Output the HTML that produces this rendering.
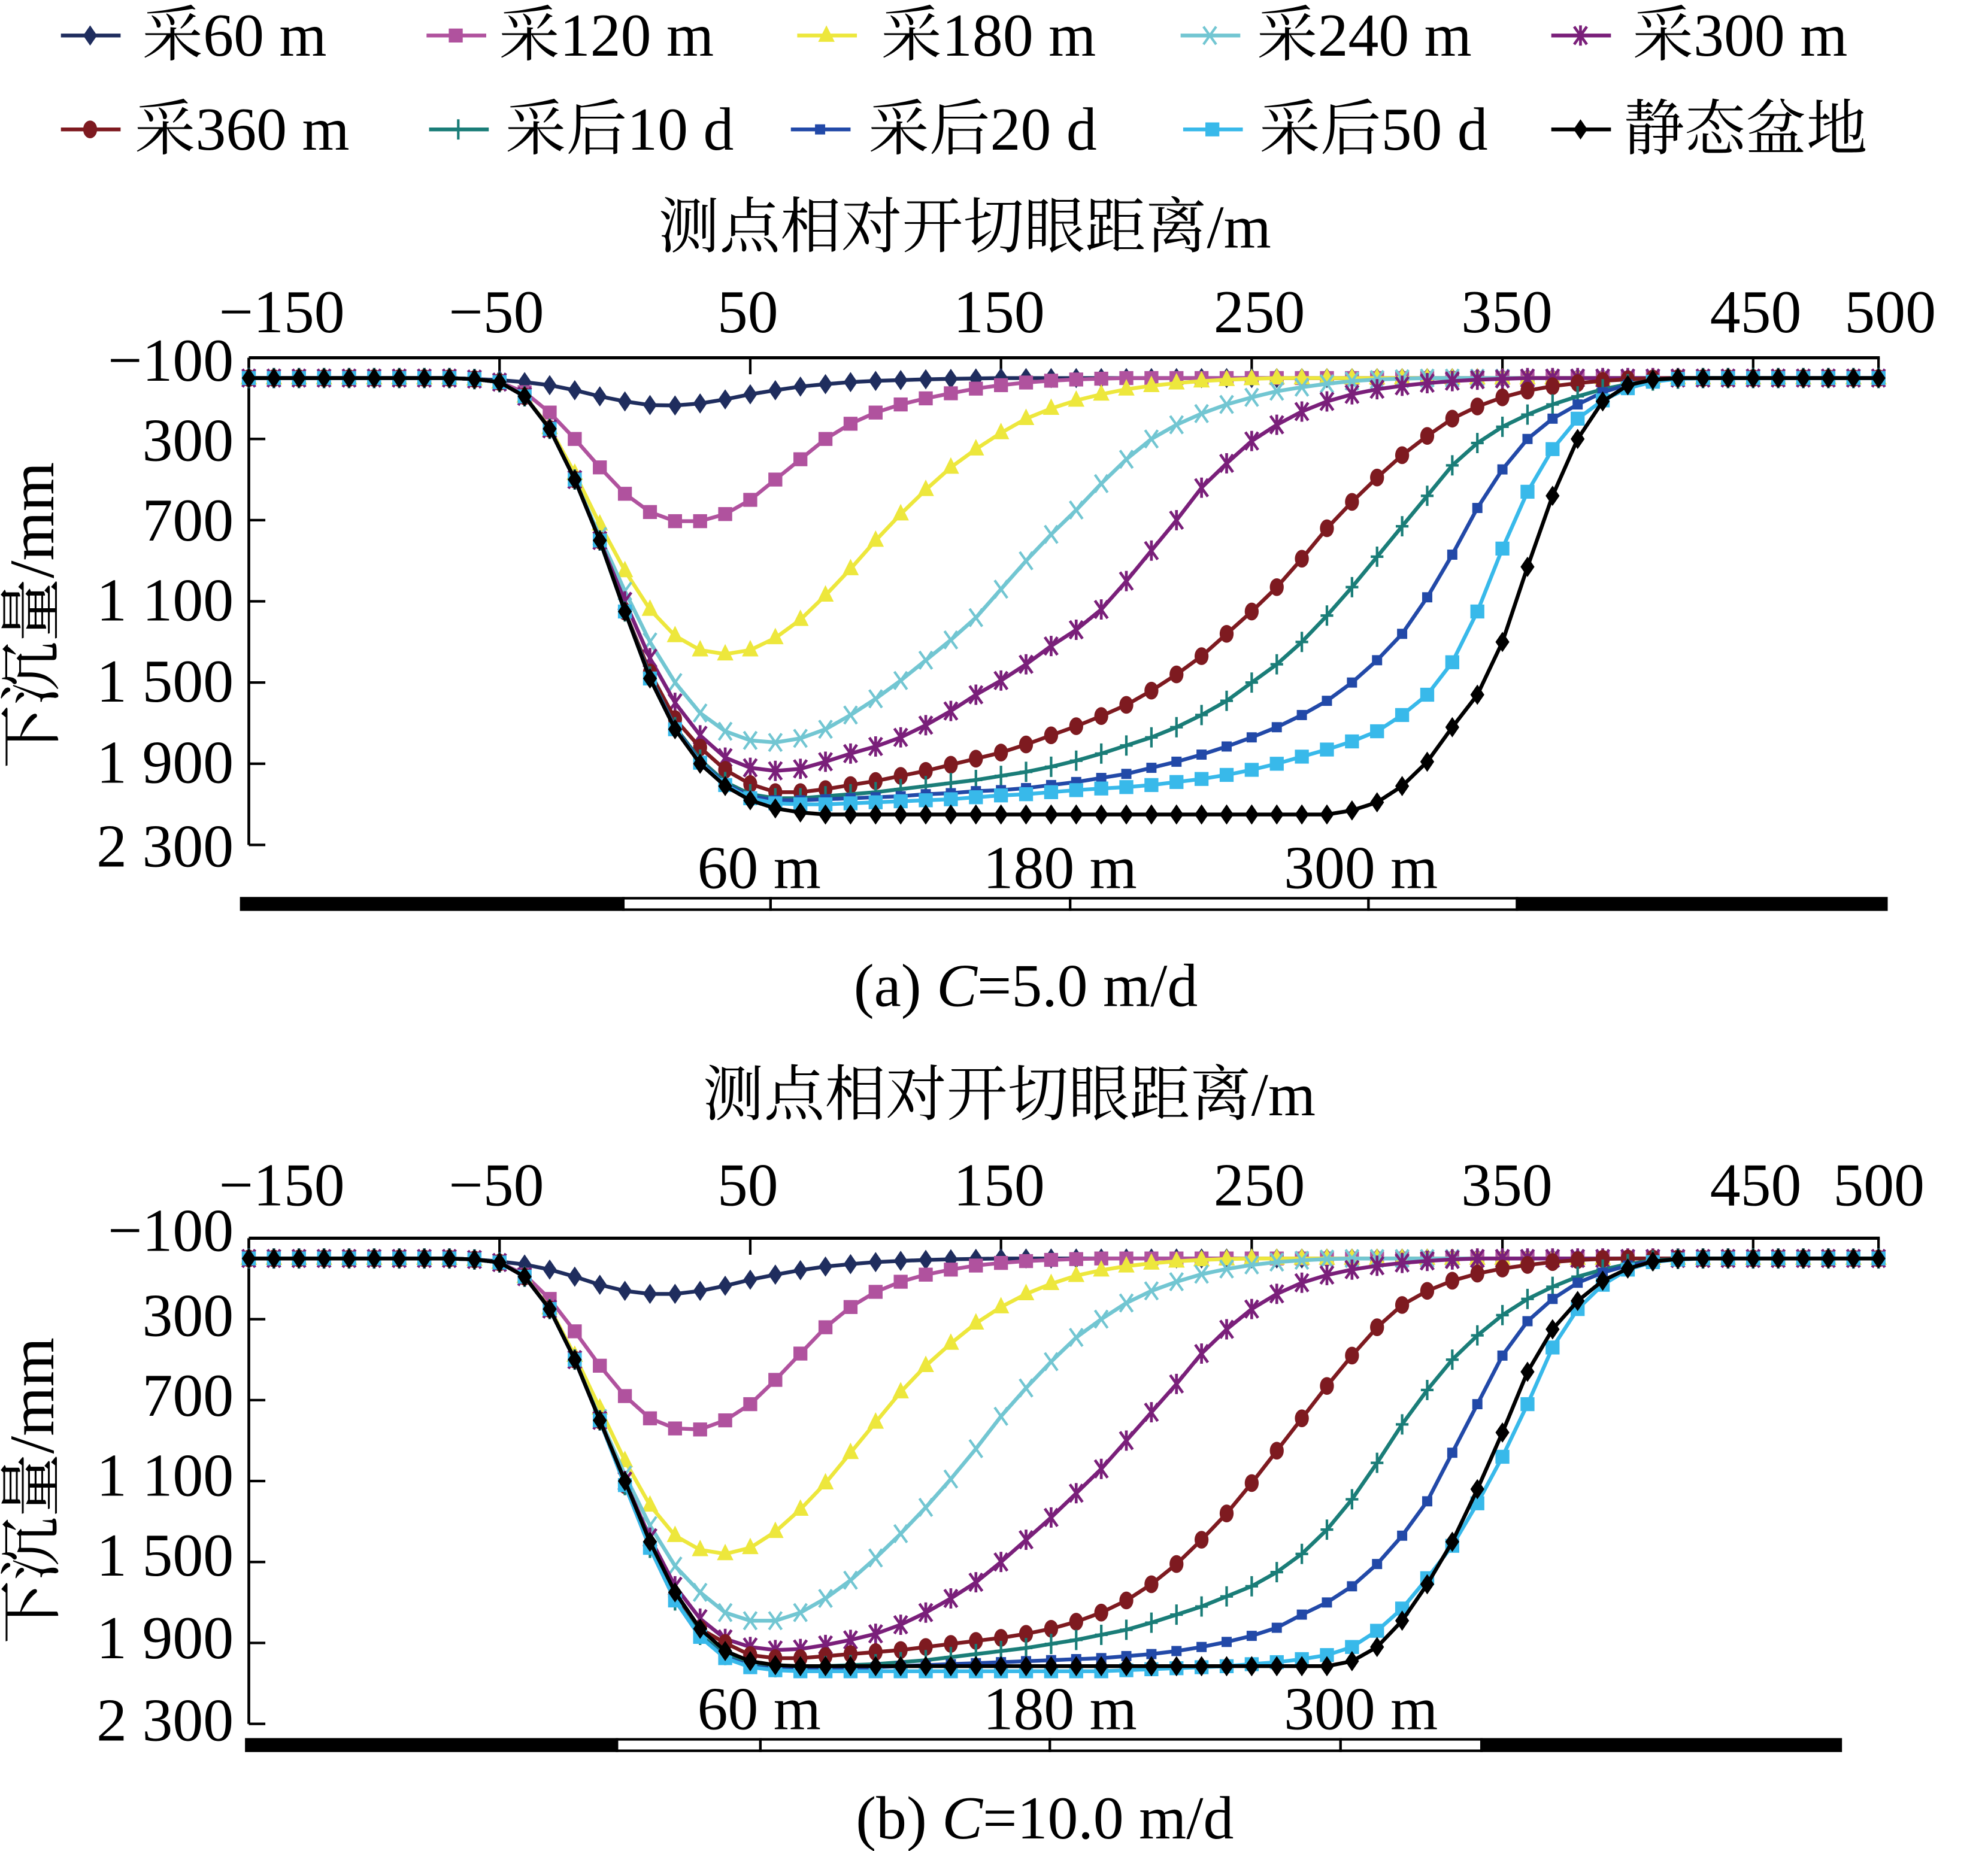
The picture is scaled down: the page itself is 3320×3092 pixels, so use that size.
<!DOCTYPE html>
<html><head><meta charset="utf-8">
<style>
html,body{margin:0;padding:0;background:#fff;}
svg{display:block;}
text{font-family:"Liberation Serif","Noto Serif CJK SC",serif;fill:#000;}
</style></head>
<body>
<svg id="chart" xmlns="http://www.w3.org/2000/svg" width="3320" height="3092" viewBox="0 0 1566 1459" preserveAspectRatio="none">
</svg>
<script>
const X = [-150,-140,-130,-120,-110,-100,-90,-80,-70,-60,-50,-40,-30,-20,-10,0,10,20,30,40,50,60,70,80,90,100,110,120,130,140,150,160,170,180,190,200,210,220,230,240,250,260,270,280,290,300,310,320,330,340,350,360,370,380,390,400,410,420,430,440,450,460,470,480,490,500];
const xTicks = [-150,-50,50,150,250,350,450,500];
const yTicks = [-100,300,700,1100,1500,1900,2300];
const yTickLabels = ["\u2212100","300","700","1 100","1 500","1 900","2 300"];
const seriesNames = ["采60 m","采120 m","采180 m","采240 m","采300 m","采360 m","采后10 d","采后20 d","采后50 d","静态盆地"];

const a60 = [0,0,0,0,0,0,0,0,0,5,10,20,35,60,90,115,133,135,125,105,80,60,42,30,20,14,10,6,4,2,0,0,0,0,0,0,0,0,0,0,0,0,0,0,0,0,0,0,0,0,0,0,0,0,0,0,0,0,0,0,0,0,0,0,0,0];
const a120 = [0,0,0,0,0,0,0,0,0,5,20,70,170,300,440,570,660,705,705,670,600,500,400,300,225,170,130,100,75,52,35,22,13,7,3,0,0,0,0,0,0,0,0,0,0,0,0,0,0,0,0,0,0,0,0,0,0,0,0,0,0,0,0,0,0,0];
const a180 = [0,0,0,0,0,0,0,0,0,5,20,90,245,470,720,950,1140,1270,1340,1360,1340,1280,1190,1070,940,800,670,550,440,350,270,200,150,110,80,55,38,25,15,8,4,0,0,0,0,0,0,0,0,0,0,0,0,0,0,0,0,0,0,0,0,0,0,0,0,0];
const a240 = [0,0,0,0,0,0,0,0,0,5,20,90,250,500,780,1050,1300,1500,1650,1740,1785,1795,1775,1730,1660,1580,1490,1390,1290,1180,1040,900,770,650,520,400,300,230,175,130,95,65,45,28,15,7,3,0,0,0,0,0,0,0,0,0,0,0,0,0,0,0,0,0,0,0];
const a300 = [0,0,0,0,0,0,0,0,0,5,20,90,250,500,800,1100,1380,1600,1760,1870,1920,1935,1925,1890,1850,1815,1770,1710,1640,1560,1490,1410,1320,1240,1140,1000,850,700,540,420,310,230,165,115,80,55,38,25,15,8,4,0,0,0,0,0,0,0,0,0,0,0,0,0,0,0];
const a360 = [0,0,0,0,0,0,0,0,0,5,20,90,250,500,800,1150,1450,1680,1820,1930,2000,2040,2040,2025,2005,1985,1960,1935,1905,1875,1845,1805,1760,1715,1665,1610,1540,1460,1370,1260,1150,1030,890,740,610,490,380,285,200,140,95,62,40,25,14,6,2,0,0,0,0,0,0,0,0,0];
const a10d = [0,0,0,0,0,0,0,0,0,5,20,90,250,500,800,1150,1470,1720,1880,1990,2050,2070,2070,2060,2050,2040,2025,2010,1995,1980,1960,1940,1915,1885,1850,1810,1770,1720,1660,1590,1500,1410,1300,1170,1030,880,730,580,430,320,240,180,130,90,55,30,12,3,0,0,0,0,0,0,0,0];
const a20d = [0,0,0,0,0,0,0,0,0,5,20,90,250,500,800,1150,1475,1725,1890,2000,2060,2080,2080,2075,2070,2065,2060,2050,2045,2035,2030,2020,2005,1990,1970,1950,1920,1890,1855,1815,1770,1720,1660,1590,1500,1390,1260,1080,870,640,450,300,200,130,70,32,12,3,0,0,0,0,0,0,0,0];
const a50d = [0,0,0,0,0,0,0,0,0,5,20,90,250,500,800,1150,1480,1730,1895,2005,2070,2095,2100,2100,2095,2090,2085,2080,2075,2065,2056,2050,2040,2030,2022,2015,2005,1990,1975,1955,1930,1900,1865,1830,1790,1740,1660,1560,1400,1150,840,560,350,200,110,50,18,4,0,0,0,0,0,0,0,0];
const aStatic = [0,0,0,0,0,0,0,0,0,5,20,90,250,500,800,1150,1480,1730,1900,2010,2080,2120,2140,2150,2150,2150,2150,2150,2150,2150,2150,2150,2150,2150,2150,2150,2150,2150,2150,2150,2150,2150,2150,2150,2130,2090,2010,1890,1720,1560,1300,930,580,300,115,35,8,0,0,0,0,0,0,0,0,0];

const b60 = [0,0,0,0,0,0,0,0,0,5,15,30,55,90,130,160,175,175,160,135,105,80,58,40,28,18,12,7,4,2,0,0,0,0,0,0,0,0,0,0,0,0,0,0,0,0,0,0,0,0,0,0,0,0,0,0,0,0,0,0,0,0,0,0,0,0];
const b120 = [0,0,0,0,0,0,0,0,0,5,20,80,200,360,530,680,790,840,845,800,720,600,470,340,240,165,115,80,55,35,22,13,7,3,0,0,0,0,0,0,0,0,0,0,0,0,0,0,0,0,0,0,0,0,0,0,0,0,0,0,0,0,0,0,0,0];
const b180 = [0,0,0,0,0,0,0,0,0,5,20,90,245,480,740,1000,1220,1370,1440,1460,1430,1350,1240,1110,960,810,660,530,420,320,240,175,125,85,58,38,24,14,7,3,0,0,0,0,0,0,0,0,0,0,0,0,0,0,0,0,0,0,0,0,0,0,0,0,0,0];
const b240 = [0,0,0,0,0,0,0,0,0,5,20,90,250,500,790,1070,1320,1520,1650,1750,1790,1790,1750,1680,1590,1480,1360,1230,1090,940,780,640,510,390,300,220,160,115,78,52,32,18,9,3,0,0,0,0,0,0,0,0,0,0,0,0,0,0,0,0,0,0,0,0,0,0];
const b300 = [0,0,0,0,0,0,0,0,0,5,20,90,250,500,800,1100,1380,1620,1780,1880,1920,1935,1930,1910,1885,1855,1810,1750,1680,1600,1500,1390,1280,1160,1040,900,760,620,470,350,250,175,120,82,55,36,22,12,5,0,0,0,0,0,0,0,0,0,0,0,0,0,0,0,0,0];
const b360 = [0,0,0,0,0,0,0,0,0,5,20,90,250,500,800,1120,1420,1670,1830,1900,1960,1975,1975,1965,1955,1945,1935,1920,1905,1890,1875,1855,1830,1795,1750,1690,1610,1510,1390,1260,1110,950,790,630,480,340,230,160,110,75,50,32,18,8,2,0,0,0,0,0,0,0,0,0,0,0];
const b10d = [0,0,0,0,0,0,0,0,0,5,20,90,250,500,800,1120,1430,1690,1860,1960,2000,2020,2020,2015,2010,2005,1995,1985,1970,1955,1940,1925,1905,1885,1860,1835,1800,1760,1720,1670,1620,1550,1460,1340,1190,1010,820,650,500,380,280,200,140,90,55,28,10,2,0,0,0,0,0,0,0,0];
const b20d = [0,0,0,0,0,0,0,0,0,5,20,90,250,500,800,1120,1430,1690,1870,1970,2015,2030,2030,2030,2025,2020,2015,2010,2005,2000,1995,1990,1985,1980,1975,1965,1955,1940,1920,1895,1865,1825,1760,1700,1620,1510,1370,1200,960,720,480,310,200,120,70,35,14,4,0,0,0,0,0,0,0,0];
const b50d = [0,0,0,0,0,0,0,0,0,5,20,90,250,500,800,1120,1430,1690,1870,1975,2020,2035,2040,2040,2040,2040,2040,2040,2040,2040,2040,2040,2040,2040,2040,2035,2030,2025,2020,2015,2005,1995,1980,1960,1920,1840,1730,1580,1420,1210,980,720,440,250,130,55,18,5,0,0,0,0,0,0,0,0];
const bStatic = [0,0,0,0,0,0,0,0,0,5,20,90,250,500,800,1100,1400,1650,1830,1940,1990,2010,2015,2015,2015,2015,2015,2015,2015,2015,2015,2015,2015,2015,2015,2015,2015,2015,2015,2015,2015,2015,2015,2015,1990,1920,1790,1610,1400,1140,860,560,350,210,110,50,15,3,0,0,0,0,0,0,0,0];

const seriesA = [a60,a120,a180,a240,a300,a360,a10d,a20d,a50d,aStatic];
const seriesB = [b60,b120,b180,b240,b300,b360,b10d,b20d,b50d,bStatic];

const colors = ["#1f2d5e","#b0529e","#ede73c","#72c6d2","#7a1f7a","#7e1a20","#1a7d78","#2249a8","#38b9ea","#000000"];
const shapes = ["diamond","square","triangle","xmark","star","circle","plus","bar","square","diamond"];

const NS = "http://www.w3.org/2000/svg";
const svg = document.getElementById('chart');
function mk(tag, attrs, parent){
  const e = document.createElementNS(NS, tag);
  for (const k in attrs) e.setAttribute(k, attrs[k]);
  (parent||svg).appendChild(e);
  return e;
}
function txt(s, x, y, size, anchor, parent){
  const t = mk('text', {x:x, y:y, 'font-size':size, 'text-anchor':anchor||'middle'}, parent);
  t.textContent = s;
  return t;
}
function xs(m){ return 196 + (m + 150) * 1.975; }
function yA(v){ return 282 + (v + 100) * 0.16; }
function yB(v){ return 976 + (v + 100) * 0.1595; }

function marker(g, shape, x, y, c){
  let e;
  if (shape === 'diamond') e = mk('polygon', {points:`${x},${y-8} ${x+5.5},${y} ${x},${y+8} ${x-5.5},${y}`, fill:c}, g);
  else if (shape === 'square') e = mk('rect', {x:x-5.5, y:y-5.5, width:11, height:11, fill:c}, g);
  else if (shape === 'triangle') e = mk('polygon', {points:`${x},${y-8} ${x+6.5},${y+5} ${x-6.5},${y+5}`, fill:c}, g);
  else if (shape === 'xmark') e = mk('path', {d:`M${x-5} ${y-7}L${x+5} ${y+7}M${x+5} ${y-7}L${x-5} ${y+7}`, stroke:c, 'stroke-width':2, fill:'none'}, g);
  else if (shape === 'star') e = mk('path', {d:`M${x-5} ${y-7}L${x+5} ${y+7}M${x+5} ${y-7}L${x-5} ${y+7}M${x} ${y-8}L${x} ${y+8}`, stroke:c, 'stroke-width':2.2, fill:'none'}, g);
  else if (shape === 'circle') e = mk('ellipse', {cx:x, cy:y, rx:5.5, ry:7, fill:c}, g);
  else if (shape === 'plus') e = mk('path', {d:`M${x-5} ${y}L${x+5} ${y}M${x} ${y-8}L${x} ${y+8}`, stroke:c, 'stroke-width':2, fill:'none'}, g);
  else if (shape === 'bar') e = mk('rect', {x:x-4, y:y-4, width:8, height:8, fill:c}, g);
  
  
}

// Legend
const legendPos = [[48,44],[336,44],[628,44],[930,44],[1222,44],[48,118],[338,118],[623,118],[932,118],[1222,118]];
const legendTextX = [112,393,694,990,1286,106,398,684,992,1279];
for (let i = 0; i < 10; i++){
  const g = mk('g', {});
  
  
  const ly = legendPos[i][1] - 16;
  mk('line', {x1:legendPos[i][0], y1:ly, x2:legendPos[i][0]+47, y2:ly, stroke:colors[i], 'stroke-width':3}, g);
  marker(g, shapes[i], legendPos[i][0]+23, ly, colors[i]);
  txt(seriesNames[i], legendTextX[i], legendPos[i][1], 48, 'start', g);
}

const xLabelX = [222,391,589,787,992,1187,1383,1489];
const xLabelXb = [222,391,589,787,992,1187,1383,1480];

function drawChart(series, yf, topY, tickLabelY, titleY, titleX, yLabelYs, yTitleY, barY, barSegs, barLabelY, caption, capX, capY, tag, xlx){
  const g = mk('g', {});
  
  
  const at = txt('测点相对开切眼距离/m', titleX, titleY, 48, 'middle', g);
  
  
  for (let i = 0; i < xTicks.length; i++){
    const t = txt(String(xTicks[i]).replace('-', '\u2212'), xlx[i], tickLabelY, 48, 'middle', g);
    
    
  }
  const bottomY = yf(2300);
  const ax = mk('line', {x1:xs(-150), y1:topY, x2:xs(500)+1, y2:topY, stroke:'#000', 'stroke-width':2.5}, g);
  
  
  const ay = mk('line', {x1:xs(-150), y1:topY, x2:xs(-150), y2:bottomY, stroke:'#000', 'stroke-width':2.2}, g);
  
  
  for (let i = 1; i < xTicks.length; i++){
    const tk = mk('line', {x1:xs(xTicks[i]), y1:topY, x2:xs(xTicks[i]), y2:topY+13, stroke:'#000', 'stroke-width':2}, g);
    
    
  }
  for (let i = 1; i < yTicks.length; i++){
    const tk = mk('line', {x1:xs(-150), y1:yf(yTicks[i]), x2:xs(-150)+13, y2:yf(yTicks[i]), stroke:'#000', 'stroke-width':2}, g);
    
    
  }
  for (let i = 0; i < yTickLabels.length; i++){
    const t = txt(yTickLabels[i], 184, yLabelYs[i] + 16, 48, 'end', g);
    
    
  }
  const yt = txt('下沉量/mm', 0, 0, 50, 'middle', g);
  yt.setAttribute('transform', `translate(42 ${yTitleY}) rotate(-90)`);
  
  
  for (let s = 0; s < series.length; s++){
    const sg = mk('g', {}, g);
    
    
    const pts = X.map((m, i) => xs(m).toFixed(1) + ',' + yf(series[s][i]).toFixed(1)).join(' ');
    const pl = mk('polyline', {points:pts, fill:'none', stroke:colors[s], 'stroke-width':3, 'stroke-linejoin':'round'}, sg);
    
    
    for (let i = 0; i < X.length; i++) marker(sg, shapes[s], xs(X[i]), yf(series[s][i]), colors[s]);
  }
  const bg = mk('g', {}, g);
  
  
  for (let i = 0; i < barSegs.length; i++){
    const sgm = barSegs[i];
    mk('rect', {x:sgm[0], y:barY, width:sgm[1]-sgm[0], height:9, fill:sgm[2], stroke:'#000', 'stroke-width':2}, bg);
  }
  const bl = ['60 m','180 m','300 m'], blx = [598,835,1072];
  for (let i = 0; i < 3; i++){
    const t = txt(bl[i], blx[i], barLabelY, 48, 'middle', g);
    
    
  }
  const ct = mk('text', {x:capX, y:capY, 'font-size':48, 'text-anchor':'middle'}, g);
  
  
  ct.innerHTML = caption;
}

drawChart(seriesA, yA, 282, 262, 195, 760,
  [284,347,410,473,537,601,667], 485, 708,
  [[190,491,'#000'],[491,607,'#fff'],[607,843,'#fff'],[843,1078,'#fff'],[1078,1195,'#fff'],[1195,1486,'#000']],
  700, '(a) <tspan font-style="italic">C</tspan>=5.0 m/d', 808, 793, 'a', xLabelX);

drawChart(seriesB, yB, 976, 950, 879, 795,
  [970,1037,1100,1163,1226,1291,1356], 1175, 1371,
  [[194,486,'#000'],[486,599,'#fff'],[599,827,'#fff'],[827,1056,'#fff'],[1056,1167,'#fff'],[1167,1450,'#000']],
  1363, '(b) <tspan font-style="italic">C</tspan>=10.0 m/d', 823, 1449, 'b', xLabelXb);
</script>
</body></html>
